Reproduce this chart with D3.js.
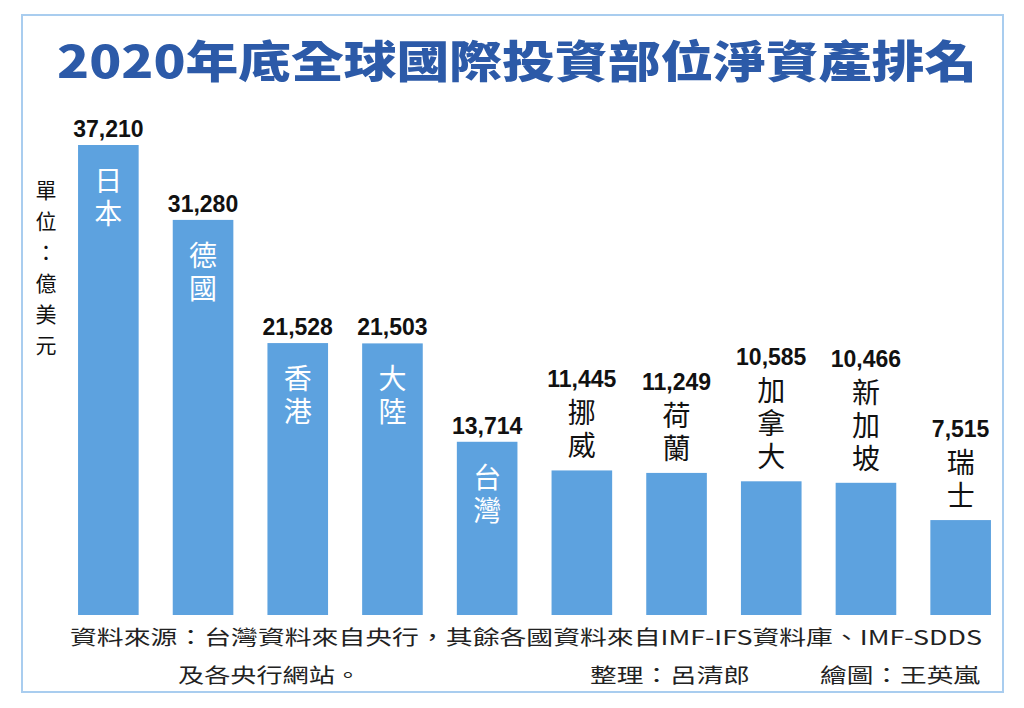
<!DOCTYPE html>
<html><head><meta charset="utf-8">
<script src="https://cdn.jsdelivr.net/npm/d3@7/dist/d3.min.js"></script>
<style>body{margin:0;background:#fff}</style></head>
<body><svg id="c" width="1024" height="708"></svg>
<script>
const categories = ["日本","德國","香港","大陸","台灣","挪威","荷蘭","加拿大","新加坡","瑞士"];
const values = [37210,31280,21528,21503,13714,11445,11249,10585,10466,7515];
const valueLabels = ["37,210","31,280","21,528","21,503","13,714","11,445","11,249","10,585","10,466","7,515"];
const insideLabel = [true,true,true,true,true,false,false,false,false,false];

const svg = d3.select("#c");
const font = "'Noto Sans CJK TC','Noto Sans CJK SC',sans-serif";
svg.append("rect").attr("x",22).attr("y",15).attr("width",981).attr("height",677)
  .attr("fill","#fff").attr("stroke","#a9cdef").attr("stroke-width",2);
svg.append("text").attr("x",517).attr("y",78).attr("text-anchor","middle")
  .attr("font-family",font).attr("font-weight",900).attr("font-size",44)
  .attr("fill","#2c5aa8").attr("textLength",920).attr("lengthAdjust","spacingAndGlyphs")
  .text("2020年底全球國際投資部位淨資產排名");

const x = d3.scaleBand().domain(categories).range([61,1008]).paddingInner(0.36).paddingOuter(0.18);
const y = d3.scaleLinear().domain([0,37210]).range([615,145]);

svg.selectAll("rect.bar").data(values).enter().append("rect").attr("class","bar")
  .attr("x",(d,i)=>x(categories[i])).attr("width",x.bandwidth())
  .attr("y",d=>y(d)).attr("height",d=>615-y(d)).attr("fill","#5da2df");

categories.forEach((c,i)=>{
  const cx = x(c)+x.bandwidth()/2, top = y(values[i]);
  const chars = [...c];
  let firstC, col;
  if(insideLabel[i]){ firstC = top+36; col="#fff"; }
  else { firstC = top-24-(chars.length-1)*33; col="#111"; }
  chars.forEach((ch,j)=>{
    svg.append("text").attr("x",cx).attr("y",firstC+j*33+10).attr("text-anchor","middle")
      .attr("font-family",font).attr("font-size",28).attr("fill",col).text(ch);
  });
  const numY = insideLabel[i] ? top-8 : firstC-26;
  svg.append("text").attr("x",cx).attr("y",numY).attr("text-anchor","middle")
    .attr("font-family","'Liberation Sans',Arial,sans-serif").attr("font-weight",700)
    .attr("font-size",23).attr("fill","#111").text(valueLabels[i]);
});

[..."單位：億美元"].forEach((ch,j)=>{
  svg.append("text").attr("x",46).attr("y",198+j*31).attr("text-anchor","middle")
    .attr("font-family",font).attr("font-size",21).attr("fill","#111").text(ch);
});

const foot = (t,xx,yy,len)=>svg.append("text").attr("x",xx).attr("y",yy)
  .attr("font-family",font).attr("font-size",20).attr("fill","#222").attr("textLength",len)
  .attr("lengthAdjust","spacingAndGlyphs").text(t);
foot("資料來源：台灣資料來自央行，其餘各國資料來自IMF-IFS資料庫、IMF-SDDS",70,645,912);
foot("及各央行網站。",178,683,183);
foot("整理：呂清郎",590,683,160);
foot("繪圖：王英嵐",820,683,160);
</script></body></html>
